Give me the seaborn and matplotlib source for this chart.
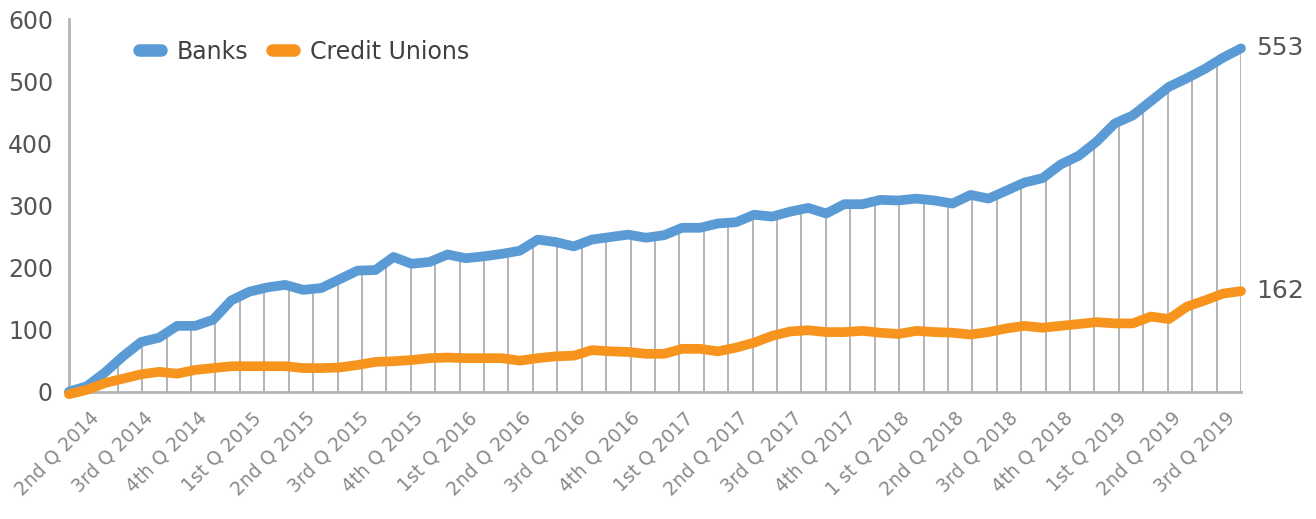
import numpy as np
import pandas as pd
import seaborn as sns
import matplotlib.pyplot as plt
from matplotlib.lines import Line2D
from matplotlib.transforms import ScaledTranslation

# quarter labels (one every 3 months)
quarters = ["2nd Q 2014", "3rd Q 2014", "4th Q 2014",
            "1st Q 2015", "2nd Q 2015", "3rd Q 2015", "4th Q 2015",
            "1st Q 2016", "2nd Q 2016", "3rd Q 2016", "4th Q 2016",
            "1st Q 2017", "2nd Q 2017", "3rd Q 2017", "4th Q 2017",
            "1 st Q 2018", "2nd Q 2018", "3rd Q 2018", "4th Q 2018",
            "1st Q 2019", "2nd Q 2019", "3rd Q 2019"]

# monthly values, Apr 2014 - Sep 2019
banks = [0, 9, 31, 57, 80, 87, 106, 106, 116, 147, 161, 168, 172, 164, 167,
         181, 195, 196, 217, 206, 209, 221,
         215, 218, 222, 227, 245, 241, 234, 245, 249, 253, 248, 252, 264, 264,
         271, 273, 285, 282, 290, 296, 287, 302, 302, 309,
         308, 311, 308, 303, 317, 311, 324, 337, 344, 366, 380, 403, 432, 445,
         468, 491, 505, 520, 538, 553]
credit_unions = [-4, 3, 14, 21, 28, 32, 29, 35, 38, 41, 41, 41, 41, 38, 38,
                 39, 43, 48, 49, 51, 54, 55,
                 54, 54, 54, 50, 54, 57, 58, 67, 65, 64, 61, 61, 69, 69, 65,
                 71, 79, 90, 97, 99, 96, 96, 98, 95,
                 93, 98, 96, 95, 92, 96, 102, 106, 103, 106, 109, 112, 110,
                 110, 121, 117, 137, 147, 158, 162]

series = ["Banks", "Credit Unions"]
colors = {"Banks": "#5b9bd5", "Credit Unions": "#f7941d"}

months = np.arange(len(banks))
df = pd.DataFrame({
    "month": np.concatenate([months, months]),
    "count": banks + credit_unions,
    "type": ["Banks"] * len(banks) + ["Credit Unions"] * len(credit_unions),
})

sns.set_style("white")
plt.rcParams["font.family"] = ["DejaVu Sans"]

fig = plt.figure(figsize=(13.16, 5.19), dpi=100)
ax = fig.add_axes([0.0524, 0.2453, 0.8906, 0.7177])

gray = "#b4b4b4"
text_gray = "#555555"

# thin vertical drop lines under the banks line
drop_x = np.linspace(0, months[-1], 49)
ax.vlines(drop_x, 0, np.interp(drop_x, months, banks), color=gray, lw=1.4, zorder=1)

sns.lineplot(data=df, x="month", y="count", hue="type", hue_order=series,
             palette=colors, lw=7, legend=False, ax=ax, zorder=3,
             solid_capstyle="round", clip_on=False)

ax.set_xlim(0, months[-1])
ax.set_ylim(0, 600)
ax.set_yticks(range(0, 601, 100))
ax.set_xticks(months[::3])
ax.set_xticklabels(quarters, rotation=45, ha="right", rotation_mode="anchor",
                   fontsize=13.5, color="#8a8a8a")
ax.set_xlabel("")
ax.set_ylabel("")

ax.tick_params(axis="y", direction="inout", length=17, width=1.5, color=gray,
               labelsize=17, labelcolor=text_gray, pad=3)
ax.tick_params(axis="x", length=0, pad=12)
shift = ScaledTranslation(0.2, 0, fig.dpi_scale_trans)
for lbl in ax.get_xticklabels():
    lbl.set_transform(lbl.get_transform() + shift)

sns.despine(ax=ax)
for side in ["left", "bottom"]:
    ax.spines[side].set_color(gray)
    ax.spines[side].set_linewidth(2)

# end labels
for name, vals in [("Banks", banks), ("Credit Unions", credit_unions)]:
    ax.annotate(f"{vals[-1]}", xy=(months[-1], vals[-1]), xytext=(11, 0),
                textcoords="offset points", va="center", ha="left",
                fontsize=18, color=text_gray, annotation_clip=False)

handles = [Line2D([0], [0], color=colors[s], lw=9, solid_capstyle="round") for s in series]
ax.legend(handles, series, loc="center left", bbox_to_anchor=(0.06, 0.913),
          ncol=2, frameon=False, fontsize=17, handlelength=0.9,
          handletextpad=0.7, columnspacing=1.0, borderaxespad=0, borderpad=0,
          labelcolor="#404040")

fig.savefig("out.png", dpi=100)
